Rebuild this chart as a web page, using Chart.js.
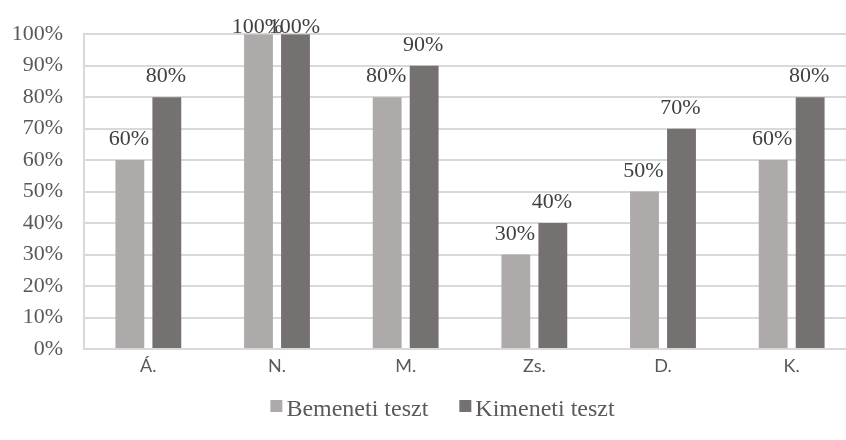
<!DOCTYPE html>
<html>
<head>
<meta charset="utf-8">
<script src="https://cdn.jsdelivr.net/npm/chart.js@4/dist/chart.umd.min.js"></script>
<style>
html,body{margin:0;padding:0;background:#fff;overflow:hidden;}
#wrap{width:846px;height:440px;position:relative;overflow:hidden;}
canvas{display:block;}
</style>
</head>
<body>
<div id="wrap"><canvas id="c" width="856" height="440"></canvas></div>
<script>
const categories = ["Á.", "N.", "M.", "Zs.", "D.", "K."];
const seriesNames = ["Bemeneti teszt", "Kimeneti teszt"];
const bemeneti = [60, 100, 80, 30, 50, 60];
const kimeneti = [80, 100, 90, 40, 70, 80];
const yTicks = [0, 10, 20, 30, 40, 50, 60, 70, 80, 90, 100];

const labelPlugin = {
  id: 'barLabels',
  afterDatasetsDraw(chart) {
    const ctx = chart.ctx;
    ctx.save();
    ctx.font = '22px "Liberation Serif"';
    ctx.fillStyle = '#404040';
    ctx.textAlign = 'center';
    ctx.textBaseline = 'alphabetic';
    chart.data.datasets.forEach((ds, i) => {
      const meta = chart.getDatasetMeta(i);
      meta.data.forEach((bar, j) => {
        ctx.fillText(ds.data[j] + '%', bar.x - 1, Math.max(bar.y - 15, 33));
      });
    });
    ctx.restore();
  }
};

const legendPlugin = {
  id: 'customLegend',
  afterDraw(chart) {
    const ctx = chart.ctx;
    ctx.save();
    ctx.font = '24px "Liberation Serif"';
    ctx.textBaseline = 'alphabetic';
    ctx.textAlign = 'left';
    const box = 12, gapText = 4, gapItem = 31;
    const items = chart.data.datasets.map(d => ({ label: d.label, color: d.backgroundColor, w: ctx.measureText(d.label).width }));
    let total = 0;
    items.forEach((it, i) => { total += box + gapText + it.w + (i < items.length - 1 ? gapItem : 0); });
    let x = 442.5 - total / 2;
    const baseY = 416;
    items.forEach(it => {
      ctx.fillStyle = it.color;
      ctx.fillRect(x, baseY - 16, box, box);
      x += box + gapText;
      ctx.fillStyle = '#595959';
      ctx.fillText(it.label, x, baseY);
      x += it.w + gapItem;
    });
    ctx.restore();
  }
};

new Chart(document.getElementById('c'), {
  type: 'bar',
  data: {
    labels: categories,
    datasets: [
      { label: seriesNames[0], data: bemeneti, backgroundColor: '#AEAAAA', borderWidth: 0,
        categoryPercentage: 0.575, barPercentage: 0.78 },
      { label: seriesNames[1], data: kimeneti, backgroundColor: '#767171', borderWidth: 0,
        categoryPercentage: 0.575, barPercentage: 0.78 }
    ]
  },
  options: {
    responsive: false,
    animation: false,
    devicePixelRatio: 1,
    layout: { padding: { top: 30, right: 0, left: 0, bottom: 0 } },
    plugins: {
      tooltip: { enabled: false },
      legend: { display: false }
    },
    scales: {
      x: {
        grid: { display: false, drawTicks: false },
        border: { display: true, color: '#D9D9D9', width: 2 },
        ticks: { font: { family: 'Lato', size: 18 }, color: '#595959', padding: 6 },
        afterFit(scale) { scale.height = 91; }
      },
      y: {
        min: 0, max: 100,
        afterBuildTicks(scale) { scale.ticks = yTicks.map(v => ({ value: v })); },
        grid: { color: '#D9D9D9', lineWidth: 2, drawTicks: false },
        border: { display: true, color: '#D9D9D9', width: 2 },
        ticks: {
          font: { family: 'Liberation Serif', size: 22 },
          color: '#595959',
          padding: 21,
          callback: v => v + '%'
        },
        afterFit(scale) { scale.width = 84; }
      }
    }
  },
  plugins: [labelPlugin, legendPlugin]
});
</script>
</body>
</html>
